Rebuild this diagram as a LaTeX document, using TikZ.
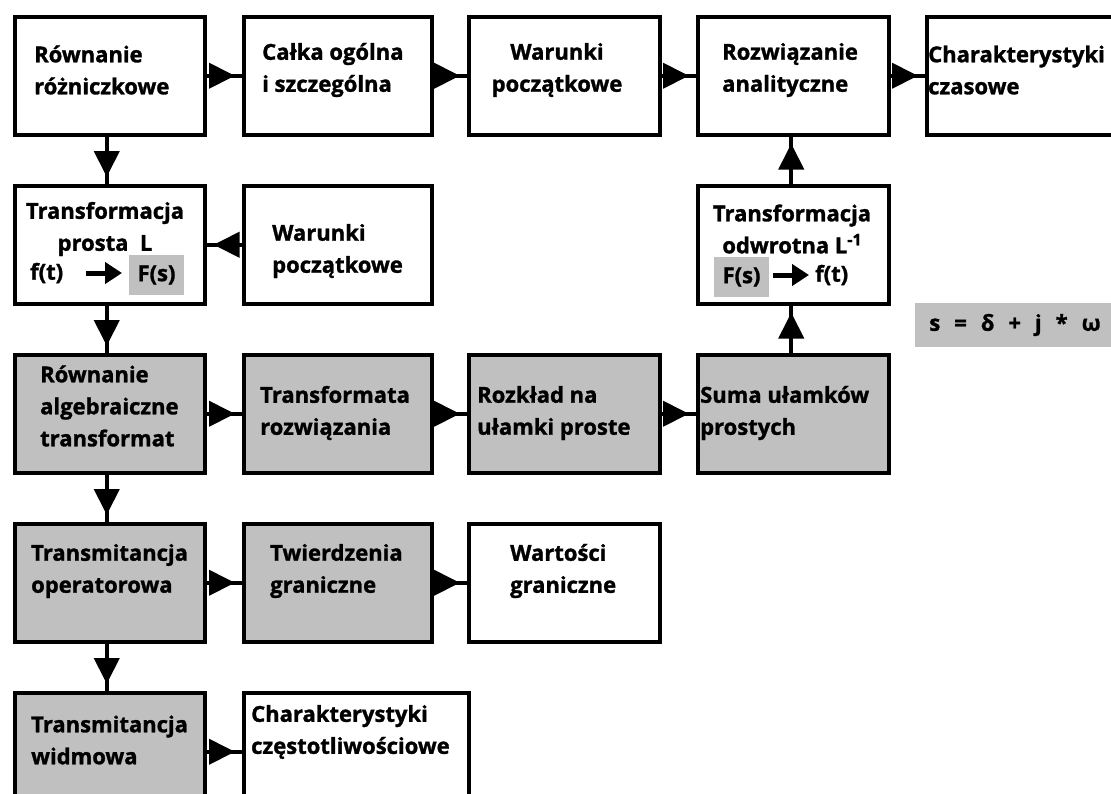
\documentclass[tikz,border=0pt]{standalone}
\usepackage{fontspec}
\setmainfont{Open Sans}[BoldFeatures={FakeBold=1.3}]
\usetikzlibrary{arrows.meta}
\definecolor{boxgray}{RGB}{192,192,192}
\newcommand\myflow[2]{\draw[link] (#1) -- (#2); \draw[tip] (#1) -- (#2);}
\begin{document}
\begin{tikzpicture}[x=1pt,y=-1pt,
 box/.style={draw=black,line width=3.5pt,fill=white,anchor=north west,inner sep=0pt,minimum height=118pt},
 gbox/.style={box,fill=boxgray},
 txt/.style={anchor=west,align=left,inner sep=0pt,font=\bfseries\fontsize{22}{32}\selectfont},
 ctxt/.style={txt,anchor=center,align=center},
 hl/.style={fill=boxgray,inner sep=0pt,minimum width=55pt,minimum height=40pt,font=\bfseries\fontsize{22}{32}\selectfont},
 link/.style={line width=4pt},
 tip/.style={line width=4pt,-{Triangle[length=26pt,width=25pt]},shorten >=7pt},
 inarrow/.style={line width=5pt,-{Triangle[length=17pt,width=21pt]}}
]
\clip (0,0) rectangle (1111,793);
\fill[white] (0,0) rectangle (1111,793);

% row 1
\node[box,minimum width=190pt] (a1) at (13,15) {};
\node[box,minimum width=188pt] (b1) at (242,15) {};
\node[box,minimum width=191pt] (c1) at (467,15) {};
\node[box,minimum width=191pt] (d1) at (696,15) {};
\node[box,minimum width=200pt] (e1) at (925,15) {};
% row 2
\node[box,minimum width=190pt] (a2) at (13,184) {};
\node[box,minimum width=188pt] (b2) at (242,184) {};
\node[box,minimum width=191pt] (d2) at (696,184) {};
\node[fill=boxgray,anchor=north west,inner sep=0pt,minimum width=200pt,minimum height=44pt] (s) at (915,303) {};
% row 3
\node[gbox,minimum width=190pt] (a3) at (13,353) {};
\node[gbox,minimum width=188pt] (b3) at (242,353) {};
\node[gbox,minimum width=191pt] (c3) at (467,353) {};
\node[gbox,minimum width=191pt] (d3) at (696,353) {};
% row 4
\node[gbox,minimum width=190pt] (a4) at (13,522) {};
\node[gbox,minimum width=188pt] (b4) at (242,522) {};
\node[box,minimum width=191pt] (c4) at (467,522) {};
% row 5
\node[gbox,minimum width=190pt] (a5) at (13,691) {};
\node[box,minimum width=225pt] (b5) at (242,691) {};

% texts
\node[txt] (ta1) at (34,70) {Równanie\\różniczkowe};
\node[txt] (tb1) at (262,70) {Całka ogólna\\i szczególna};
\node[ctxt] (tc1) at (557,70) {Warunki\\początkowe};
\node[txt] (td1) at (722,70) {Rozwiązanie\\analityczne};
\node[txt] (te1) at (928,70) {Charakterystyki\\czasowe};

\node[ctxt] (ta2) at (105,229) {Transformacja\\prosta\ \ L};
\node[txt] (fa2) at (30,273) {f(t)};
\node[hl] (Fa2) at (156.5,275) {F(s)};
\draw[inarrow] (86,273) -- (122,273);
\node[txt] (tb2) at (272,251) {Warunki\\początkowe};

\node[ctxt] (td2) at (792,229) {Transformacja\\odwrotna L\raisebox{8pt}{\fontsize{16}{16}\selectfont -1}};
\node[hl] (Fd2) at (741.5,277) {F(s)};
\node[txt] (fd2) at (815,275) {f(t)};
\draw[inarrow] (773,275) -- (809,275);

\node[ctxt] (ts) at (1015,325) {s\hspace{14pt}=\hspace{14pt}δ\hspace{14pt}+\hspace{14pt}j\hspace{14pt}*\hspace{14pt}ω};

\node[txt] (ta3) at (40,406) {Równanie\\algebraiczne\\transformat};
\node[txt] (tb3) at (260,413) {Transformata\\rozwiązania};
\node[txt] (tc3) at (477,413) {Rozkład na\\ułamki proste};
\node[txt] (td3) at (700,413) {Suma ułamków\\prostych};

\node[txt] (ta4) at (31,571) {Transmitancja\\operatorowa};
\node[txt] (tb4) at (270,571) {Twierdzenia\\graniczne};
\node[txt] (tc4) at (510,571) {Wartości\\graniczne};

\node[txt] (ta5) at (31,740) {Transmitancja\\widmowa};
\node[txt] (tb5) at (251,732) {Charakterystyki\\częstotliwościowe};

% connectors
\myflow{a1.east}{b1.west}
\myflow{b1.east}{c1.west}
\myflow{c1.east}{d1.west}
\myflow{d1.east}{e1.west}
\myflow{[xshift=-3pt]a1.south}{[xshift=-3pt]a2.north}
\myflow{b2.west}{a2.east}
\myflow{[xshift=-3pt]a2.south}{[xshift=-3pt]a3.north}
\myflow{[xshift=-2pt]d3.north}{[xshift=-2pt]d2.south}
\myflow{[xshift=-2pt]d2.north}{[xshift=-2pt]d1.south}
\myflow{a3.east}{b3.west}
\myflow{b3.east}{c3.west}
\myflow{c3.east}{d3.west}
\myflow{[xshift=-3pt]a3.south}{[xshift=-3pt]a4.north}
\myflow{a4.east}{b4.west}
\myflow{b4.east}{c4.west}
\myflow{[xshift=-3pt]a4.south}{[xshift=-3pt]a5.north}
\myflow{a5.east}{b5.west}
\end{tikzpicture}
\end{document}
